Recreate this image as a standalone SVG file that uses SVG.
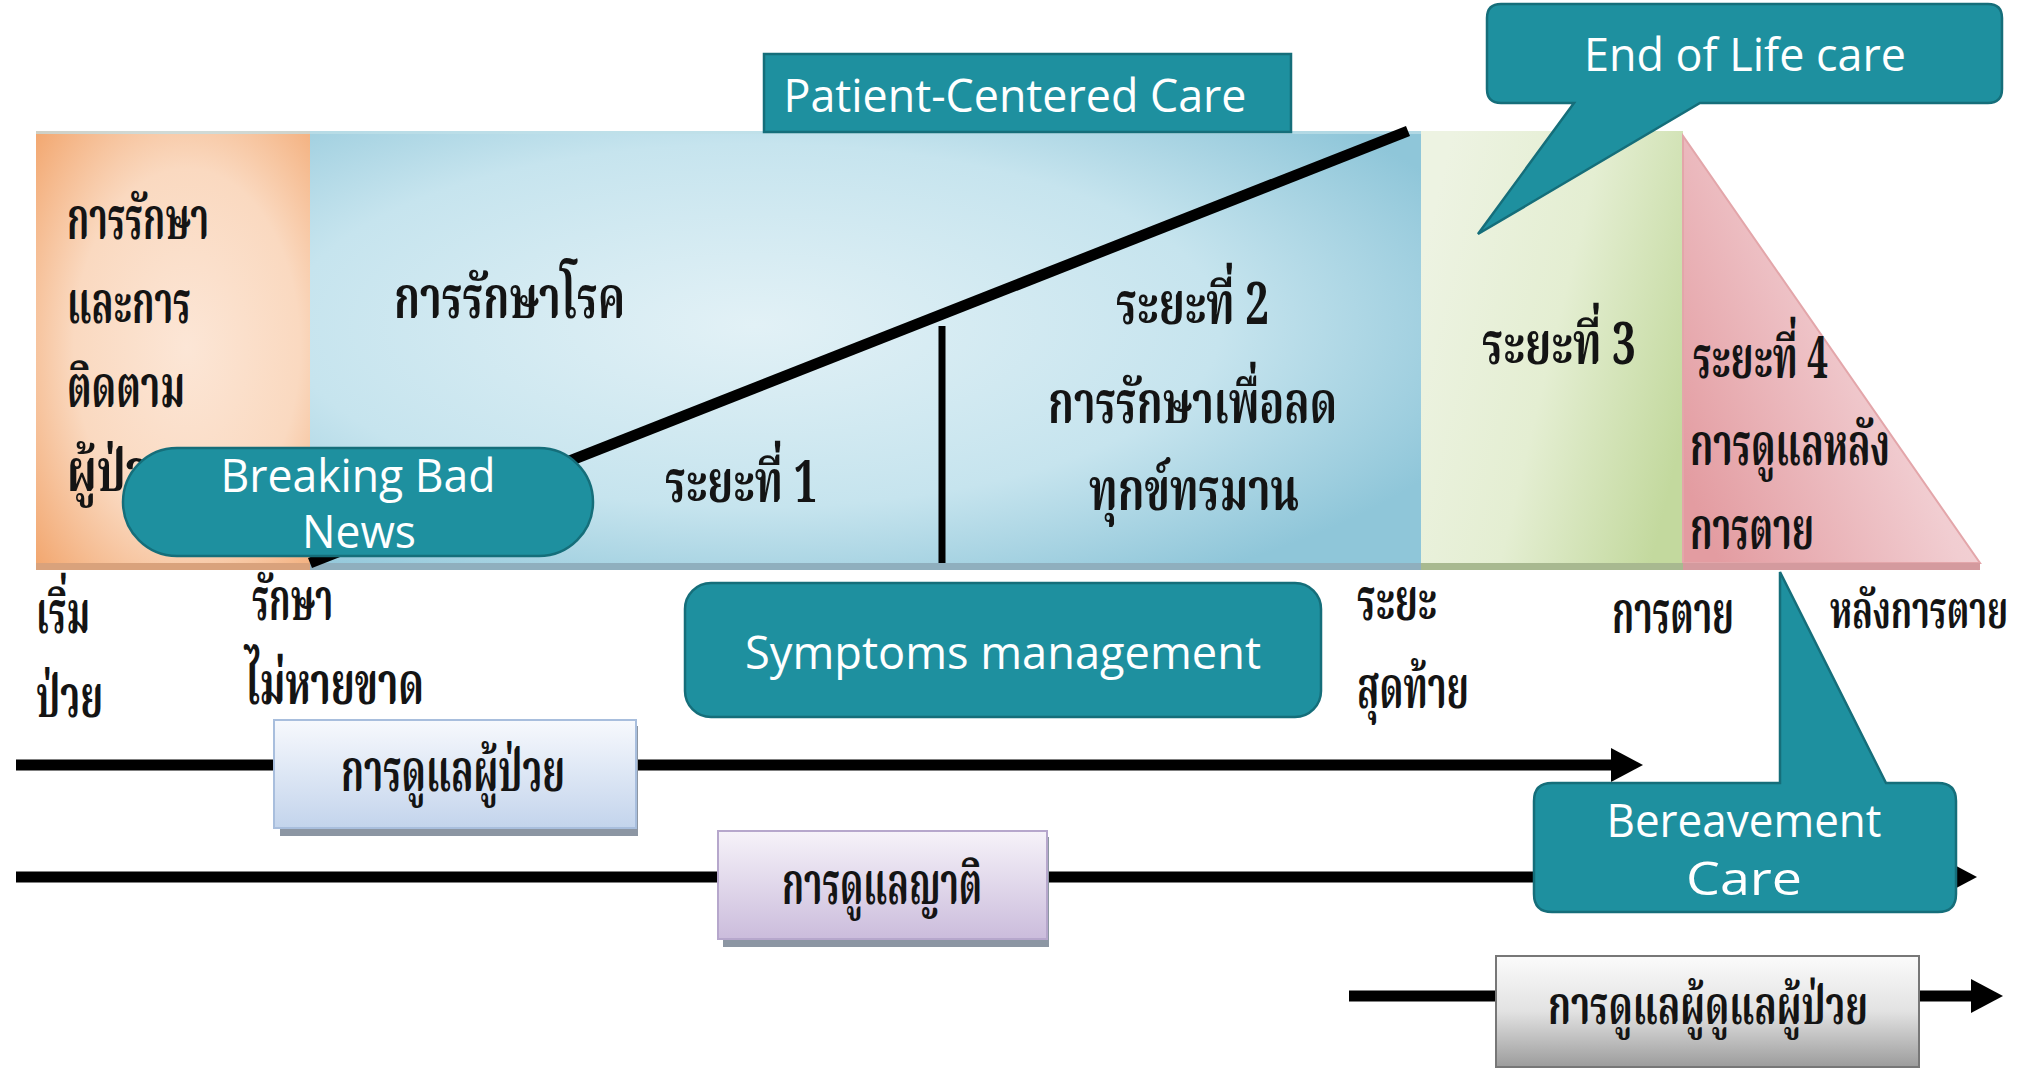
<svg xmlns="http://www.w3.org/2000/svg" width="2026" height="1072" viewBox="0 0 2026 1072">
<style>
.th{font-family:"Noto Serif Thai","Noto Sans Thai","Tlwg Typo","Garuda","Loma","Liberation Serif",serif;font-weight:bold;fill:#141414;font-size:58px;}
.en{font-family:"Open Sans","Noto Sans","Liberation Sans",sans-serif;fill:#ffffff;font-size:46px;text-anchor:middle;}
.teal{fill:#1E909F;stroke:#156E7A;stroke-width:2.5;}
.conn{stroke:#000;stroke-width:11;fill:none;}
.shadow{fill:#8C96A3;}
</style>
<defs>
<radialGradient id="gOr" cx="0.55" cy="0.5" r="0.75">
<stop offset="0" stop-color="#FCE6D6"/><stop offset="0.55" stop-color="#FAD9C0"/><stop offset="1" stop-color="#F2A66E"/>
</radialGradient>
<radialGradient id="gBl" cx="0.4" cy="0.45" r="0.7">
<stop offset="0" stop-color="#E2F1F6"/><stop offset="0.6" stop-color="#C6E4EE"/><stop offset="1" stop-color="#8FC6D9"/>
</radialGradient>
<linearGradient id="gGr" x1="0" y1="0.3" x2="1" y2="0.7">
<stop offset="0" stop-color="#EDF3E2"/><stop offset="0.5" stop-color="#E4EED2"/><stop offset="1" stop-color="#C3D99E"/>
</linearGradient>
<linearGradient id="gPk" x1="0" y1="0.8" x2="1" y2="0.2">
<stop offset="0" stop-color="#E39CA1"/><stop offset="0.6" stop-color="#F1CDD1"/><stop offset="1" stop-color="#F5DADD"/>
</linearGradient>
<linearGradient id="gB1" x1="0" y1="0" x2="0" y2="1">
<stop offset="0" stop-color="#F7F9FD"/><stop offset="1" stop-color="#C3D4EC"/>
</linearGradient>
<linearGradient id="gB2" x1="0" y1="0" x2="0" y2="1">
<stop offset="0" stop-color="#F6F2F9"/><stop offset="1" stop-color="#CBBCDC"/>
</linearGradient>
<linearGradient id="gB3" x1="0" y1="0" x2="0" y2="1">
<stop offset="0" stop-color="#FBFBFB"/><stop offset="0.5" stop-color="#E2E2E2"/><stop offset="1" stop-color="#9C9C9C"/>
</linearGradient>
<marker id="ah" viewBox="0 0 32 34" markerWidth="32" markerHeight="34" refX="2" refY="17" orient="auto" markerUnits="userSpaceOnUse">
<path d="M0,0 L32,17 L0,34 Z" fill="#000"/>
</marker>
</defs>
<rect width="2026" height="1072" fill="#ffffff"/>

<g id="band">
<rect x="36" y="131" width="274" height="432" fill="url(#gOr)"/>
<rect x="310" y="131" width="1111" height="432" fill="url(#gBl)"/>
<rect x="1421" y="131" width="262" height="432" fill="url(#gGr)"/>
<polygon points="1683,136 1683,563 1980,563" fill="url(#gPk)" stroke="#E3A6AA" stroke-width="2"/>
<rect x="36" y="563" width="274" height="7" fill="#D9A27C"/>
<rect x="310" y="563" width="1111" height="7" fill="#8FAFBE"/>
<rect x="1421" y="563" width="262" height="7" fill="#A8B990"/>
<rect x="1683" y="563" width="297" height="7" fill="#D49A9E"/>
<rect x="36" y="131" width="1385" height="3" fill="#BFE0E8" opacity="0.7"/>
<line x1="310" y1="563" x2="1408" y2="131" stroke="#000" stroke-width="11"/>
<line x1="942" y1="326" x2="942" y2="563" stroke="#000" stroke-width="7"/>
</g>

<g id="band-labels">
<text class="th" x="67" y="239" textLength="142" lengthAdjust="spacingAndGlyphs">การรักษา</text>
<text class="th" x="67" y="323" textLength="124" lengthAdjust="spacingAndGlyphs">และการ</text>
<text class="th" x="67" y="407" textLength="118" lengthAdjust="spacingAndGlyphs">ติดตาม</text>
<text class="th" x="67" y="491" textLength="110" lengthAdjust="spacingAndGlyphs">ผู้ป่วย</text>
<text class="th" x="394" y="318" textLength="231" lengthAdjust="spacingAndGlyphs">การรักษาโรค</text>
<text class="th" x="665" y="502" textLength="152" lengthAdjust="spacingAndGlyphs">ระยะที่ 1</text>
<text class="th" x="1116" y="324" textLength="153" lengthAdjust="spacingAndGlyphs">ระยะที่ 2</text>
<text class="th" x="1048" y="423" textLength="289" lengthAdjust="spacingAndGlyphs">การรักษาเพื่อลด</text>
<text class="th" x="1089" y="510" textLength="210" lengthAdjust="spacingAndGlyphs">ทุกข์ทรมาน</text>
<text class="th" x="1482" y="364" textLength="154" lengthAdjust="spacingAndGlyphs">ระยะที่ 3</text>
<text class="th" x="1693" y="378" textLength="135" lengthAdjust="spacingAndGlyphs">ระยะที่ 4</text>
<text class="th" x="1690" y="465" textLength="200" lengthAdjust="spacingAndGlyphs">การดูแลหลัง</text>
<text class="th" x="1690" y="549" textLength="124" lengthAdjust="spacingAndGlyphs">การตาย</text>
</g>

<g id="axis-labels">
<text class="th" x="36" y="633" textLength="54" lengthAdjust="spacingAndGlyphs">เริ่ม</text>
<text class="th" x="36" y="717" textLength="67" lengthAdjust="spacingAndGlyphs">ป่วย</text>
<text class="th" x="252" y="620" textLength="81" lengthAdjust="spacingAndGlyphs">รักษา</text>
<text class="th" x="245" y="704" textLength="179" lengthAdjust="spacingAndGlyphs">ไม่หายขาด</text>
<text class="th" x="1357" y="620" textLength="80" lengthAdjust="spacingAndGlyphs">ระยะ</text>
<text class="th" x="1357" y="708" textLength="112" lengthAdjust="spacingAndGlyphs">สุดท้าย</text>
<text class="th" x="1612" y="633" textLength="122" lengthAdjust="spacingAndGlyphs">การตาย</text>
<text class="th" x="1830" y="628" textLength="178" lengthAdjust="spacingAndGlyphs" style="font-size:52px">หลังการตาย</text>
</g>

<g id="connectors">
<line class="conn" x1="16" y1="765" x2="1613" y2="765" marker-end="url(#ah)"/>
<line class="conn" x1="16" y1="877" x2="1947" y2="877" marker-end="url(#ah)"/>
<line class="conn" x1="1349" y1="996" x2="1973" y2="996" marker-end="url(#ah)"/>
</g>

<g id="node-patient-care">
<rect class="shadow" x="280" y="726" width="358" height="110"/>
<rect x="274" y="720" width="362" height="108" fill="url(#gB1)" stroke="#A8BEDD" stroke-width="2"/>
<text class="th" x="341" y="791" textLength="224" lengthAdjust="spacingAndGlyphs">การดูแลผู้ป่วย</text>
</g>

<g id="node-family-care">
<rect class="shadow" x="723" y="837" width="326" height="110" fill="#9A92A6"/>
<rect x="718" y="831" width="329" height="108" fill="url(#gB2)" stroke="#B6A7CC" stroke-width="2"/>
<text class="th" x="782" y="904" textLength="200" lengthAdjust="spacingAndGlyphs">การดูแลญาติ</text>
</g>

<g id="node-caregiver-care">
<rect x="1496" y="956" width="423" height="111" fill="url(#gB3)" stroke="#777" stroke-width="2"/>
<text class="th" x="1548" y="1024" textLength="320" lengthAdjust="spacingAndGlyphs" style="font-size:54px">การดูแลผู้ดูแลผู้ป่วย</text>
</g>

<g id="node-patient-centered">
<rect class="teal" x="764" y="54" width="527" height="78"/>
<text class="en" x="1015" y="112" textLength="463" lengthAdjust="spacingAndGlyphs">Patient-Centered Care</text>
</g>

<g id="node-end-of-life">
<path class="teal" d="M1501,4 H1988 Q2002,4 2002,18 V89 Q2002,103 1988,103 H1700 L1478,234 L1574,103 H1501 Q1487,103 1487,89 V18 Q1487,4 1501,4 Z"/>
<text class="en" x="1745" y="71" textLength="322" lengthAdjust="spacingAndGlyphs">End of Life care</text>
</g>

<g id="node-breaking-bad-news">
<rect class="teal" x="123" y="448" width="470" height="108" rx="54" ry="54"/>
<text class="en" x="358" y="492" textLength="275" lengthAdjust="spacingAndGlyphs">Breaking Bad</text>
<text class="en" x="359" y="548" textLength="114" lengthAdjust="spacingAndGlyphs">News</text>
</g>

<g id="node-symptoms">
<rect class="teal" x="685" y="583" width="636" height="134" rx="26" ry="26"/>
<text class="en" x="1003" y="669" textLength="516" lengthAdjust="spacingAndGlyphs">Symptoms management</text>
</g>

<g id="node-bereavement">
<path class="teal" d="M1552,783 H1780 V572 L1886,783 H1938 Q1956,783 1956,801 V894 Q1956,912 1938,912 H1552 Q1534,912 1534,894 V801 Q1534,783 1552,783 Z"/>
<text class="en" x="1744" y="837" textLength="275" lengthAdjust="spacingAndGlyphs">Bereavement</text>
<text class="en" x="1744" y="895" textLength="116" lengthAdjust="spacingAndGlyphs">Care</text>
</g>
</svg>
